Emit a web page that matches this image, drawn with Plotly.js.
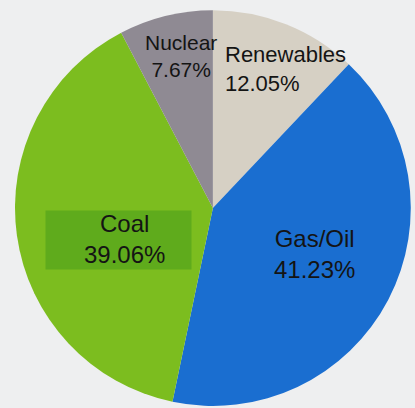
<!DOCTYPE html>
<html>
<head>
<meta charset="utf-8">
<script src="https://cdn.plot.ly/plotly-3.0.1.min.js"></script>
<style>html,body{margin:0;padding:0;background:#eeeff0;}#chart{width:415px;height:408px;}</style>
</head>
<body>
<div id="chart"></div>
<script>
var labels = ["Renewables", "Gas/Oil", "Coal", "Nuclear"];
var shares = [12.05, 41.23, 39.06, 7.67];
var colors = ["#d6d0c4", "#1a6ed0", "#7cbd1f", "#8f8a93"];

// label placement (paper coords) and style for each slice label
var labelPos = [
  {x: 0.537, y: 0.832, xanchor: "left", size: 22},
  {x: 0.757, y: 0.378, xanchor: "center", size: 24},
  {x: 0.299, y: 0.414, xanchor: "center", size: 24},
  {x: 0.436, y: 0.863, xanchor: "center", size: 21}
];

// darker highlight patch behind the Coal label
var annotations = [{
  xref: "paper", yref: "paper", x: 45 / 415, y: 1 - 210 / 408,
  xanchor: "left", yanchor: "top", showarrow: false,
  text: " ", width: 145, height: 58, borderpad: 0,
  bgcolor: "#5fab1c"
}];

labels.forEach(function (lab, i) {
  var p = labelPos[i];
  annotations.push({
    xref: "paper", yref: "paper", x: p.x, y: p.y,
    xanchor: p.xanchor, yanchor: "middle", align: p.xanchor === "left" ? "left" : "center",
    showarrow: false,
    text: lab + "<br>" + shares[i].toFixed(2) + "%",
    font: {family: "Liberation Sans, Arial, sans-serif", size: p.size, color: "#141414"}
  });
});

var trace = {
  type: "pie",
  labels: labels,
  values: shares,
  sort: false,
  direction: "clockwise",
  rotation: 0,
  marker: {colors: colors, line: {width: 0}},
  textinfo: "none",
  hoverinfo: "label+percent",
  domain: {x: [0.036, 0.990], y: [0.005, 0.975]}
};

var layout = {
  width: 415, height: 408,
  margin: {l: 0, r: 0, t: 0, b: 0},
  paper_bgcolor: "#eeeff0",
  plot_bgcolor: "#eeeff0",
  showlegend: false,
  annotations: annotations
};

Plotly.newPlot("chart", [trace], layout, {displayModeBar: false, staticPlot: true});
</script>
</body>
</html>
